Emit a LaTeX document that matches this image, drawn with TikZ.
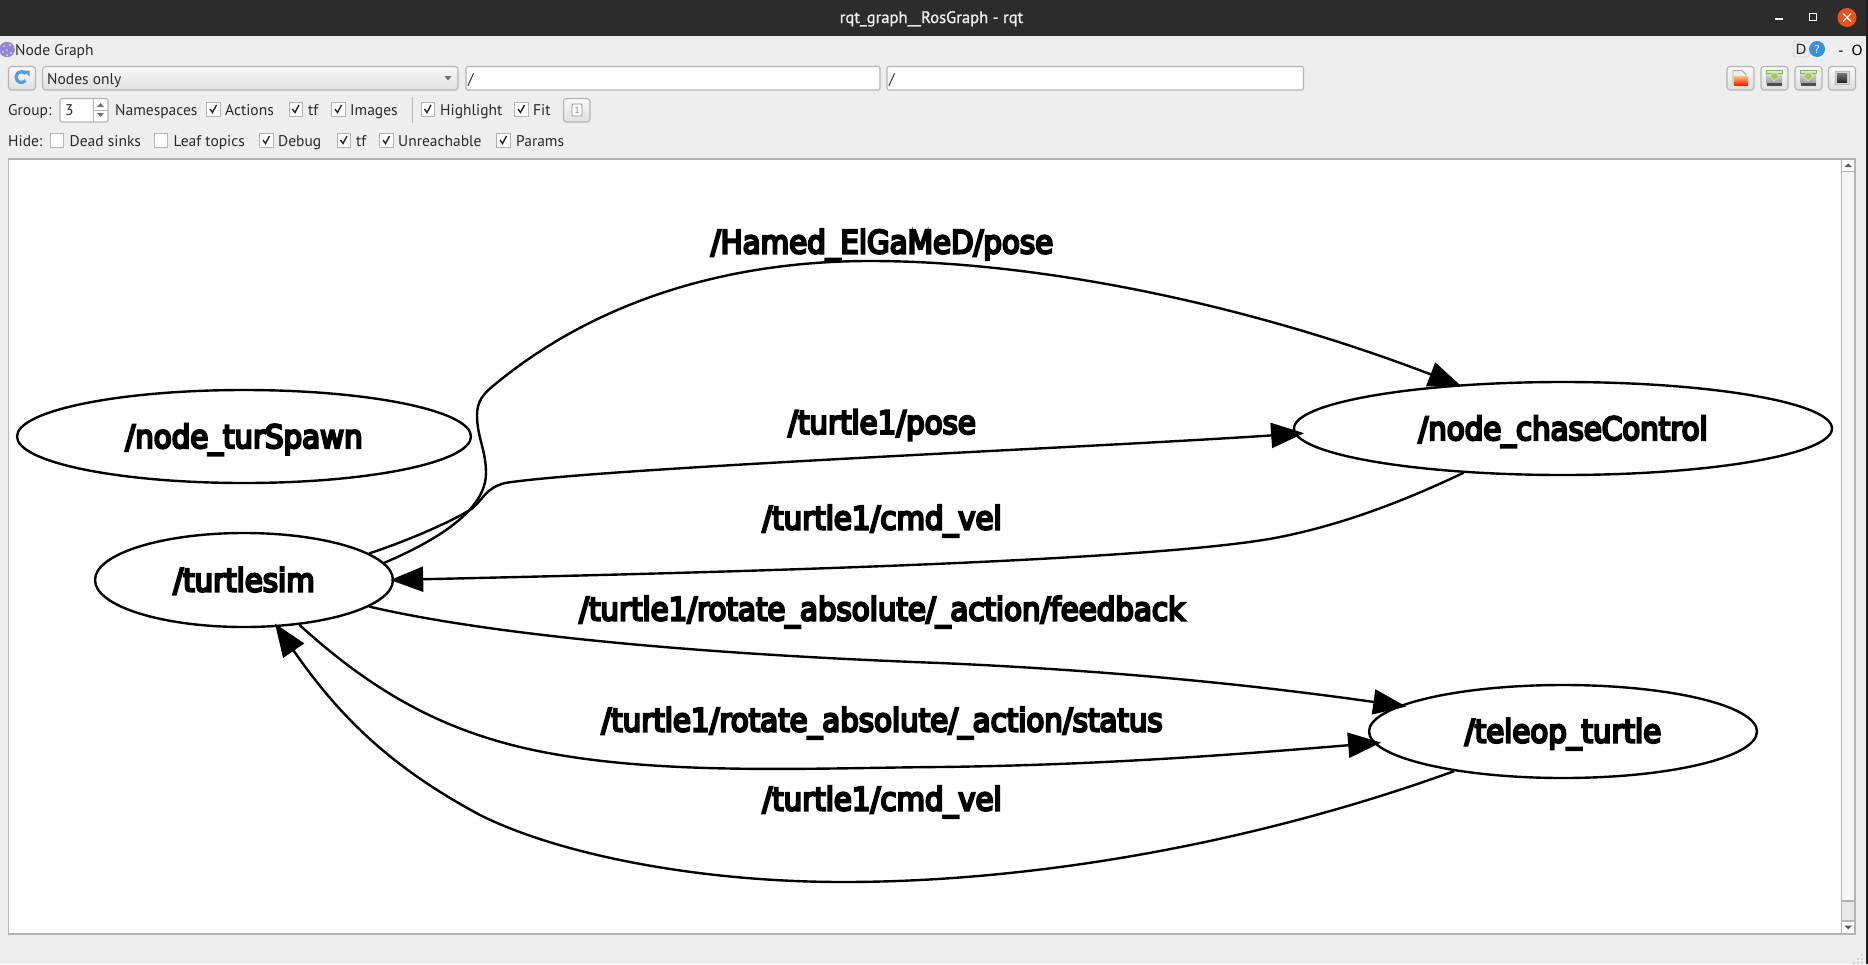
\documentclass[tikz,border=0pt]{standalone}
\usepackage{fontspec}
\usetikzlibrary{arrows.meta,shapes.geometric}
\setmainfont{PT Sans}
\newfontfamily\uifont{PT Sans}
\newfontfamily\titlefont[FakeBold=1.2]{PT Sans}
\newfontfamily\gfont[FakeBold=7,FakeStretch=0.915]{DejaVu Sans}
\newfontfamily\dvfont{DejaVu Sans}
\definecolor{winbg}{HTML}{EEEEEE}
\definecolor{titlebg}{HTML}{2C2C2C}
\definecolor{edgegray}{HTML}{B4B4B4}
\definecolor{uitext}{HTML}{2A2A2A}
\definecolor{closeorange}{HTML}{E95420}
\definecolor{refreshblue}{HTML}{5A9BD8}
\definecolor{helpblue}{HTML}{3492DE}
\definecolor{iconpurple}{HTML}{9682D7}
\definecolor{savegreen}{HTML}{A5C85A}
\definecolor{savegreenb}{HTML}{8CB450}
\tikzset{
  px/.style={x=1pt,y=-1pt},
  uilabel/.style={anchor=base west,inner sep=0pt,text=uitext,font=\uifont\fontsize{15.5}{18}\selectfont},
  field/.style={draw=edgegray,fill=white,line width=1.1pt,rounded corners=2pt},
  btn/.style={draw=edgegray,line width=1.1pt,rounded corners=3pt,top color=white!60!winbg,bottom color=winbg!94!black},
  cbox/.style={draw=edgegray,fill=white,line width=1pt},
  tick/.style={draw=black!85,line width=1.4pt},
  gnode/.style={ellipse,draw=black,fill=white,line width=2.4pt,inner sep=0pt,font=\gfont\fontsize{32}{36}\selectfont,text=black},
  glabel/.style={inner sep=0pt,font=\gfont\fontsize{32}{36}\selectfont,text=black},
  gedge/.style={draw=black,line width=2.4pt,-{Triangle[length=33pt,width=25pt]}},
}
\newcommand{\cbon}[5]{% name, box x, baseline y, label x, text
  \draw[cbox] (#2,#3-12.5) rectangle (#2+13.5,#3+1);
  \draw[tick] (#2+3.5,#3-6) -- (#2+6,#3-2.5) -- (#2+10,#3-10);
  \node[uilabel] (#1) at (#4,#3) {#5};}
\newcommand{\cboff}[5]{%
  \draw[cbox] (#2,#3-12.5) rectangle (#2+13.5,#3+1);
  \node[uilabel] (#1) at (#4,#3) {#5};}
\begin{document}
\begin{tikzpicture}[px]
\useasboundingbox (0,0) rectangle (1868,964);
% desktop strip and window
\fill[black!88] (0,0) rectangle (1868,964);
\fill[titlebg] (0,36) -- (0,0) -- (1858,0) arc[start angle=90,end angle=0,radius=8] -- (1866,36) -- cycle;
\fill[winbg] (0,36) rectangle (1866,964);
% title bar
\node[inner sep=0pt,anchor=base,text=white!92!black,font=\titlefont\fontsize{16.6}{18}\selectfont] (wintitle) at (931.5,23) {rqt\_graph\_\_RosGraph - rqt};
\draw[white,line width=1.3pt] (1775,19) -- (1783,19);
\draw[white,line width=1.3pt] (1809.5,13.5) rectangle (1816.5,20.5);
\fill[closeorange] (1847,17.5) circle (9.5);
\draw[white,line width=1.3pt] (1843,13.5) -- (1851,21.5) (1851,13.5) -- (1843,21.5);
% plugin header
\filldraw[fill=iconpurple,draw=black!40,line width=0.5pt] (7,49.5) circle (7.5);
\foreach \a/\b in {4/46,10/45,7/50,3/52,11/53,7/55}{\fill[white!85!blue] (\a,\b) circle (1);}
\node[uilabel] (plugintitle) at (15,55) {Node Graph};
\node[draw=black!25,fill=black!8,rounded corners=1.5pt,minimum width=16pt,minimum height=16pt,inner sep=0pt,text=black!85,font=\dvfont\fontsize{14}{16}\selectfont] (dbtn) at (1801,49) {D};
\node[circle,fill=helpblue,minimum size=16pt,inner sep=0pt,text=white,font=\dvfont\fontsize{11}{12}\selectfont] (hbtn) at (1817,49) {?};
\node[inner sep=0pt,anchor=base,text=black,font=\dvfont\fontsize{14}{16}\selectfont] (mbtn) at (1841,55) {-};
\node[inner sep=0pt,anchor=base,text=black,font=\dvfont\fontsize{14}{16}\selectfont] (obtn) at (1857,55) {O};
% row 1
\draw[btn] (8.5,66.5) rectangle (35.5,90);
\draw[refreshblue,line width=3.2pt] (25.7,73.5) arc[start angle=-40,end angle=-320,radius=5.5];
\fill[refreshblue] (23.5,70.5) -- (29.5,70.5) -- (29.5,76.5) -- cycle;
\draw[btn] (42.5,66.5) rectangle (458,90);
\node[uilabel] (combotext) at (47,84) {Nodes only};
\fill[black!55] (444.5,76) -- (451.5,76) -- (448,80.5) -- cycle;
\draw[field] (466,66.5) rectangle (880,90);
\node[uilabel] (f1) at (468,84) {/};
\draw[field] (887,66.5) rectangle (1303.5,90);
\node[uilabel] (f2) at (889,84) {/};
\foreach \x in {1727,1761,1795,1828.5}{\draw[btn] (\x,66.5) rectangle (\x+27,90);}
% folder icon
\filldraw[fill=winbg,draw=black!35,line width=0.8pt] (1733,70.5) -- (1742,70.5) -- (1746,74.5) -- (1746,84) -- (1733,84) -- cycle;
\fill[top color=orange!55!white,bottom color=red!75!orange] (1734,76.5) -- (1748,76.5) -- (1748,85) -- (1734,85) -- cycle;
% save icons
\foreach \x in {1766.5,1800.5}{
  \fill[top color=black!12,bottom color=black!38] (\x,71) rectangle (\x+15.5,83);
  \fill[black!70] (\x,82.5) rectangle (\x+15.5,85.5);
  \draw[savegreenb,line width=0.9pt] (\x,70.5) rectangle (\x+15.5,73);
  \filldraw[fill=savegreen,draw=white!70!savegreen,line width=0.5pt] (\x+4.5,73) -- (\x+11,73) -- (\x+11,75.5) -- (\x+13.5,75.5) -- (\x+7.75,81) -- (\x+2,75.5) -- (\x+4.5,75.5) -- cycle;
}
% screenshot icon
\fill[black!28] (1834.5,71) rectangle (1849.5,85);
\fill[white!85!black] (1835.5,72) rectangle (1848.5,84);
\fill[top color=black!55,bottom color=black!85] (1837,73.5) rectangle (1847,82.5);
% row 2
\node[uilabel] (grouplbl) at (8,115) {Group:};
\draw[field] (60,98.5) rectangle (108,122);
\draw[edgegray] (93,98.5) -- (93,122) (93,110) -- (108,110);
\fill[black!55] (97,107) -- (104,107) -- (100.5,103) -- cycle;
\fill[black!55] (97,113) -- (104,113) -- (100.5,117) -- cycle;
\node[uilabel] (groupval) at (65,115) {3};
\node[uilabel] (nslbl) at (115,115) {Namespaces};
\cbon{cba}{206.5}{115}{225}{Actions}
\cbon{cbb}{289}{115}{308}{tf}
\cbon{cbc}{331.5}{115}{350}{Images}
\draw[edgegray,line width=1pt] (412,97) -- (412,123);
\cbon{cbd}{421}{115}{440}{Highlight}
\cbon{cbe}{514.5}{115}{533}{Fit}
\draw[btn] (563.5,98.5) rectangle (590,122);
\draw[black!45,line width=0.9pt,rounded corners=1pt,fill=white] (572,104) rectangle (582,116);
\node[inner sep=0pt,text=black!50,font=\uifont\fontsize{9}{10}\selectfont] (onelbl) at (577,110) {1};
% row 3
\node[uilabel] (hidelbl) at (8,146) {Hide:};
\cboff{cbf}{50}{146}{69.5}{Dead sinks}
\cboff{cbg}{154}{146}{173.5}{Leaf topics}
\cbon{cbh}{259.5}{146}{278}{Debug}
\cbon{cbi}{337}{146}{356}{tf}
\cbon{cbj}{379.5}{146}{398}{Unreachable}
\cbon{cbk}{496.5}{146}{516}{Params}
% canvas
\fill[white] (8.5,159) rectangle (1855,934);
\fill[winbg!60!white] (1841.5,172) rectangle (1855,900);
\fill[black!9] (1841.5,901) rectangle (1855,921);
\draw[edgegray,line width=1.1pt] (1841.5,159) -- (1841.5,934) (1841.5,171.5) -- (1855,171.5) (1841.5,901) -- (1855,901) (1841.5,921) -- (1855,921);
\draw[edgegray,line width=1.1pt] (8.5,159) rectangle (1855,934);
\fill[black!65] (1844.5,167) -- (1852,167) -- (1848.25,163.5) -- cycle;
\fill[black!65] (1844.5,925.5) -- (1852,925.5) -- (1848.25,929.5) -- cycle;
% size grip
\foreach \a/\b in {862/955,862/959,862/963,858/959,858/963,854/963}{\fill[black!30] (1000+\a,\b) circle (0.8);}
% graph nodes
\node[gnode,minimum width=454pt,minimum height=93pt] (turspawn) at (244,436.5) {\raisebox{-11.5pt}[0pt][0pt]{/node\_turSpawn}};
\node[gnode,minimum width=298pt,minimum height=94pt] (turtlesim) at (244,580) {\raisebox{-11.5pt}[0pt][0pt]{/turtlesim}};
\node[gnode,minimum width=538pt,minimum height=93pt] (chase) at (1563,428.5) {\raisebox{-11.5pt}[0pt][0pt]{/node\_chaseControl}};
\node[gnode,minimum width=388pt,minimum height=93pt] (teleop) at (1563,731.5) {\raisebox{-11pt}[0pt][0pt]{/teleop\_turtle}};
% edge labels
\node[glabel] (l1) at (882,245) {/Hamed\_ElGaMeD/pose};
\node[glabel] (l2) at (882,425) {/turtle1/pose};
\node[glabel] (l3) at (882,521) {/turtle1/cmd\_vel};
\node[glabel] (l4) at (882,612) {/turtle1/rotate\_absolute/\_action/feedback};
\node[glabel] (l5) at (882,723) {/turtle1/rotate\_absolute/\_action/status};
\node[glabel] (l6) at (882,802) {/turtle1/cmd\_vel};
% edges
\draw[gedge] (turtlesim.7.3) .. controls (445,537) and (486,507) .. (486,473)
  .. controls (486,450) and (477,437) .. (477,415)
  .. controls (477,402) and (483,394) .. (493,386)
  .. controls (590,305) and (720,261) .. (870,261)
  .. controls (1040,261) and (1250,305) .. ([shift={(-2,2)}]chase.156.6);
\draw[gedge] (turtlesim.12.4) .. controls (410,540) and (455,520) .. (473,508)
  .. controls (483,499) and (486,488) .. (505,483)
  .. controls (600,468) and (1100,447) .. ([shift={(10,0)}]chase.181.6);
\draw[gedge] (chase.204.9) .. controls (1400,503) and (1340,525) .. (1280,537)
  .. controls (1150,563) and (650,574) .. ([shift={(-4,0)}]turtlesim.0);
\draw[gedge] (turtlesim.-12.2) .. controls (500,637) and (720,655) .. (940,663)
  .. controls (1100,670) and (1240,683) .. ([shift={(7,1)}]teleop.171.1);
\draw[gedge] (turtlesim.-39.7) .. controls (360,680) and (420,718) .. (494,740)
  .. controls (620,778) and (800,768) .. (940,767)
  .. controls (1100,765) and (1230,755) .. ([shift={(9,1)}]teleop.183.9);
\draw[gedge] (teleop.200.4) .. controls (1250,845) and (1030,882) .. (843,882)
  .. controls (700,882) and (560,855) .. (480,815)
  .. controls (400,772) and (345,725) .. ([shift={(-2,-3.5)}]turtlesim.-55);
\end{tikzpicture}
\end{document}
